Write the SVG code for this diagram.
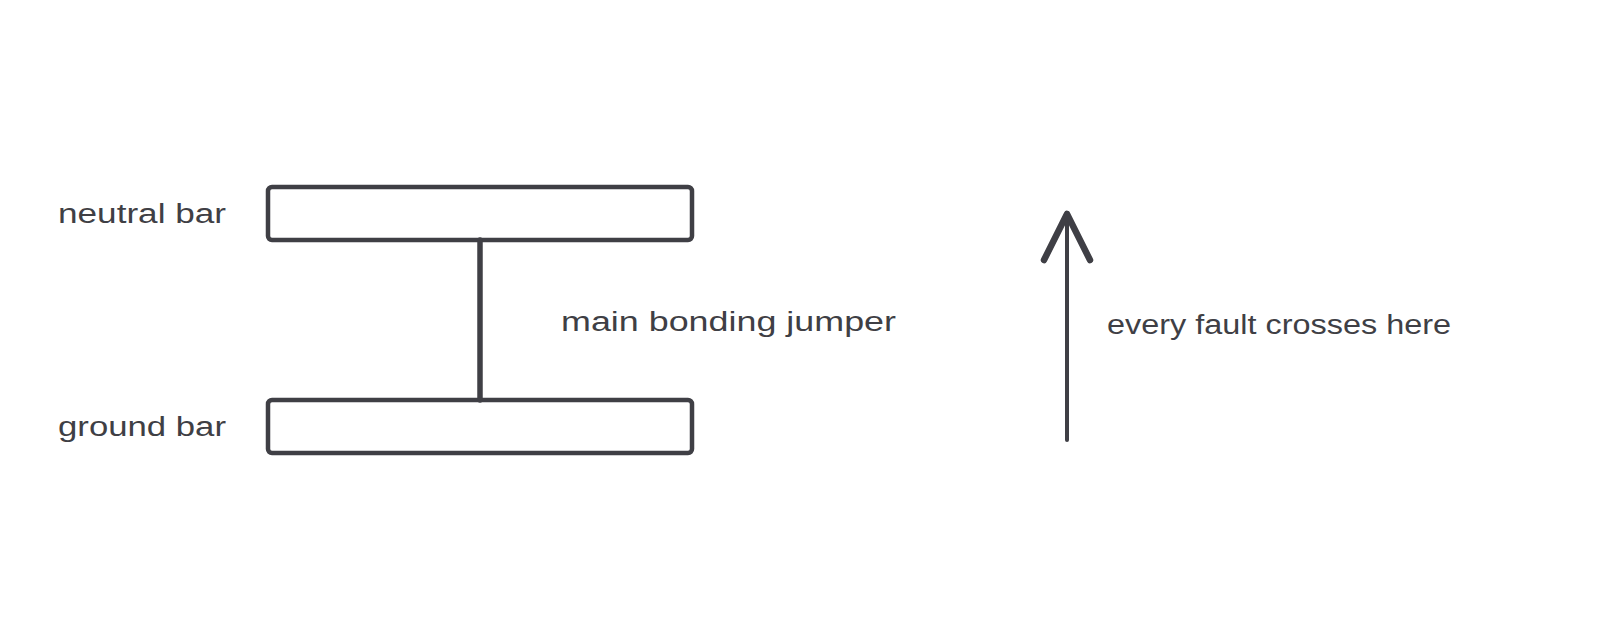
<svg xmlns="http://www.w3.org/2000/svg" width="1600" height="640" viewBox="0 0 1600 640">
<style>
.bar{fill:#ffffff;stroke:#3f3f45;stroke-width:4.5;}
.ln{stroke:#3f3f45;stroke-width:4;stroke-linecap:round;fill:none;}
.jumper{stroke-width:5.5;}
.head{stroke-width:6.5;stroke-linejoin:round;}
.lbl{font-family:"Liberation Sans",Arial,sans-serif;font-size:27px;fill:#3f3f45;}
</style>
<rect width="1600" height="640" fill="#ffffff"/>
<g id="neutral-bar">
<rect class="bar" x="268" y="187" width="424" height="53" rx="4"/>
<text class="lbl" x="58" y="223" textLength="168" lengthAdjust="spacingAndGlyphs">neutral bar</text>
</g>
<g id="ground-bar">
<rect class="bar" x="268" y="400" width="424" height="53" rx="4"/>
<text class="lbl" x="58" y="436" textLength="168" lengthAdjust="spacingAndGlyphs">ground bar</text>
</g>
<g id="connectors">
<line class="ln jumper" x1="480" y1="240" x2="480" y2="400"/>
<text class="lbl" x="561" y="331" textLength="335" lengthAdjust="spacingAndGlyphs">main bonding jumper</text>
<line class="ln" x1="1067" y1="440" x2="1067" y2="213"/>
<polyline class="ln head" points="1044,260 1067,214 1090,260"/>
<text class="lbl" x="1107" y="334" textLength="344" lengthAdjust="spacingAndGlyphs">every fault crosses here</text>
</g>
</svg>
